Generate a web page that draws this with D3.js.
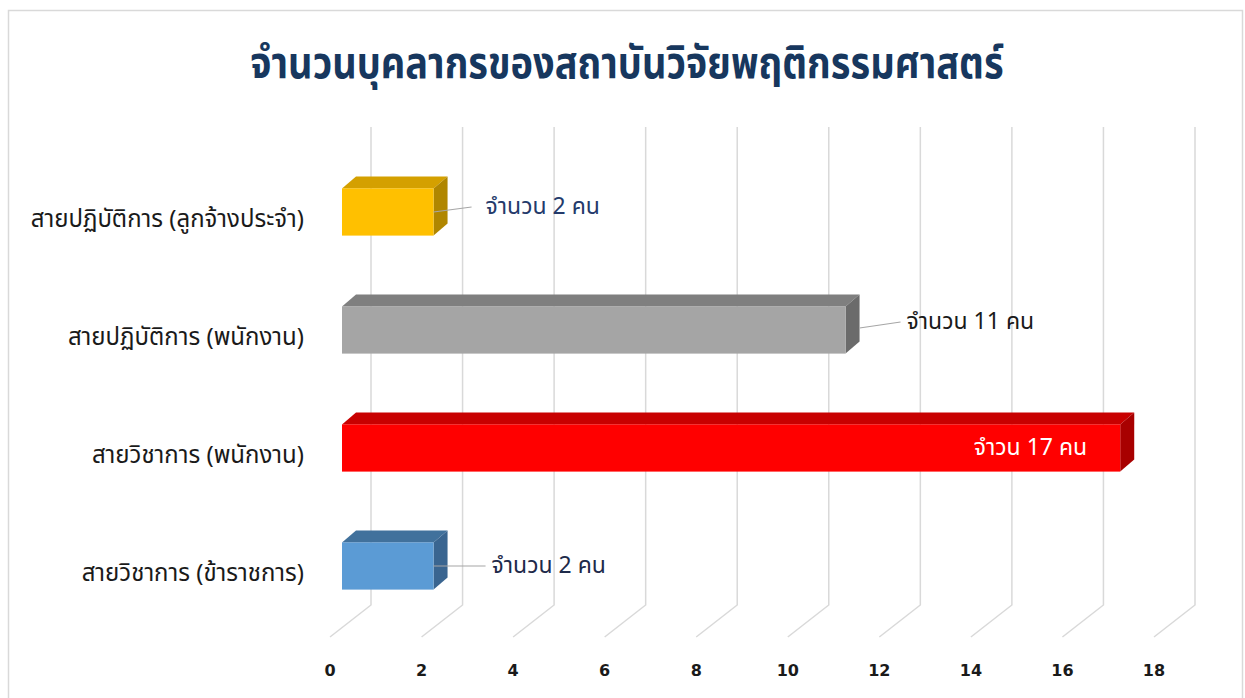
<!DOCTYPE html>
<html>
<head>
<meta charset="utf-8">
<script src="https://cdn.jsdelivr.net/npm/d3@7/dist/d3.min.js"></script>
<style>
  body { margin: 0; background: #fff; }
  svg { display: block; }
</style>
</head>
<body>
<svg id="chart" width="1245" height="698"></svg>
<script>
// ---- data ----
const title = "จำนวนบุคลากรของสถาบันวิจัยพฤติกรรมศาสตร์";
const categories = [
  "สายปฏิบัติการ (ลูกจ้างประจำ)",
  "สายปฏิบัติการ (พนักงาน)",
  "สายวิชาการ (พนักงาน)",
  "สายวิชาการ (ข้าราชการ)"
];
const values = [2, 11, 17, 2];
const valueLabels = ["จำนวน 2 คน", "จำนวน 11 คน", "จำวน 17 คน", "จำนวน 2 คน"];
const tickValues = [0, 2, 4, 6, 8, 10, 12, 14, 16, 18];

// ---- styles ----
const barColors = [
  { front: "#FFC000", top: "#D4A000", side: "#B08600" },
  { front: "#A5A5A5", top: "#7F7F7F", side: "#6B6B6B" },
  { front: "#FF0000", top: "#C80000", side: "#A80000" },
  { front: "#5B9BD5", top: "#41719C", side: "#3A6590" }
];
const labelColors = ["#243A6B", "#1A1A1A", "#FFFFFF", "#1E2A4A"];
const thaiFont = "'Noto Sans Thai', 'Tahoma', 'Leelawadee UI', 'Garuda', 'Loma', 'Noto Sans', sans-serif";

const svg = d3.select("#chart");

// frame
svg.append("rect").attr("x", 8.5).attr("y", 10.5).attr("width", 1234).attr("height", 700)
  .attr("fill", "#fff").attr("stroke", "#D9D9D9").attr("stroke-width", 1.5);

// scales (back wall)
const x = d3.scaleLinear().domain([0, 18]).range([371, 1195]);
const y = d3.scaleBand().domain(categories).range([153, 625]).paddingInner(0.6).paddingOuter(0.3);

// 3D offsets
const floorDX = -41, floorDY = 32;   // back wall -> front of floor
const barFrontDX = -29;               // back wall -> bar front face
const depthDX = 14, depthDY = -12;    // bar front -> bar back

const gridTop = 127, gridBottom = 605;

// gridlines
const grid = svg.append("g");
tickValues.forEach(t => {
  grid.append("path")
    .attr("d", `M${x(t)},${gridTop} L${x(t)},${gridBottom} L${x(t) + floorDX},${gridBottom + floorDY}`)
    .attr("fill", "none").attr("stroke", "#D9D9D9").attr("stroke-width", 1.5);
});

// axis labels
svg.append("g").selectAll("text").data(tickValues).join("text")
  .attr("x", d => x(d) + floorDX)
  .attr("y", 670)
  .attr("text-anchor", "middle")
  .attr("dominant-baseline", "central")
  .attr("font-family", "'DejaVu Sans', sans-serif")
  .attr("font-weight", "bold")
  .attr("font-size", 16)
  .attr("fill", "#1a1a1a")
  .text(d => d);

// category labels
svg.append("g").selectAll("text").data(categories).join("text")
  .attr("x", 304)
  .attr("y", d => y(d) + y.bandwidth() / 2 + 8)
  .attr("text-anchor", "end")
  .attr("dominant-baseline", "central")
  .attr("font-family", thaiFont)
  .attr("font-size", 24)
  .attr("fill", "#1a1a1a")
  .text(d => d);

// bars
const bars = svg.append("g");
categories.forEach((c, i) => {
  const x0 = x(0) + barFrontDX, x1 = x(values[i]) + barFrontDX;
  const y0 = y(c), y1 = y(c) + y.bandwidth();
  const col = barColors[i];
  const g = bars.append("g");
  g.append("path")
    .attr("d", `M${x0},${y0} L${x0 + depthDX},${y0 + depthDY} L${x1 + depthDX},${y0 + depthDY} L${x1},${y0} Z`)
    .attr("fill", col.top);
  g.append("path")
    .attr("d", `M${x1},${y0} L${x1 + depthDX},${y0 + depthDY} L${x1 + depthDX},${y1 + depthDY} L${x1},${y1} Z`)
    .attr("fill", col.side);
  g.append("rect")
    .attr("x", x0).attr("y", y0).attr("width", x1 - x0).attr("height", y1 - y0)
    .attr("fill", col.front);
});

// value labels
const lab = svg.append("g");
categories.forEach((c, i) => {
  const cy = y(c) + y.bandwidth() / 2;
  const xe = x(values[i]) + barFrontDX;
  if (i === 2) {
    lab.append("text")
      .attr("x", xe - 33).attr("y", cy)
      .attr("text-anchor", "end").attr("dominant-baseline", "central")
      .attr("font-family", thaiFont).attr("font-size", 23)
      .attr("fill", labelColors[i]).text(valueLabels[i]);
  } else {
    const sx = xe + (i === 1 ? depthDX : 0);
    const sy = cy - (i === 1 ? 2 : 0);
    const tx = i === 0 ? xe + 52 : (i === 1 ? xe + 61 : xe + 58);
    const ty = i === 0 ? cy - 5 : (i === 1 ? cy - 8 : cy);
    lab.append("path")
      .attr("d", `M${sx},${sy} L${tx - (i === 0 ? 14 : 6)},${ty}`)
      .attr("fill", "none").attr("stroke", "#A6A6A6").attr("stroke-width", 1.2);
    lab.append("text")
      .attr("x", tx).attr("y", ty)
      .attr("text-anchor", "start").attr("dominant-baseline", "central")
      .attr("font-family", thaiFont).attr("font-size", 23)
      .attr("fill", labelColors[i]).text(valueLabels[i]);
  }
});

// title
svg.append("text")
  .attr("transform", "translate(627,65) scale(1,1.15)")
  .attr("text-anchor", "middle").attr("dominant-baseline", "central")
  .attr("font-family", thaiFont).attr("font-weight", "bold").attr("font-size", 38)
  .attr("fill", "#17375E")
  .text(title);
</script>
</body>
</html>
